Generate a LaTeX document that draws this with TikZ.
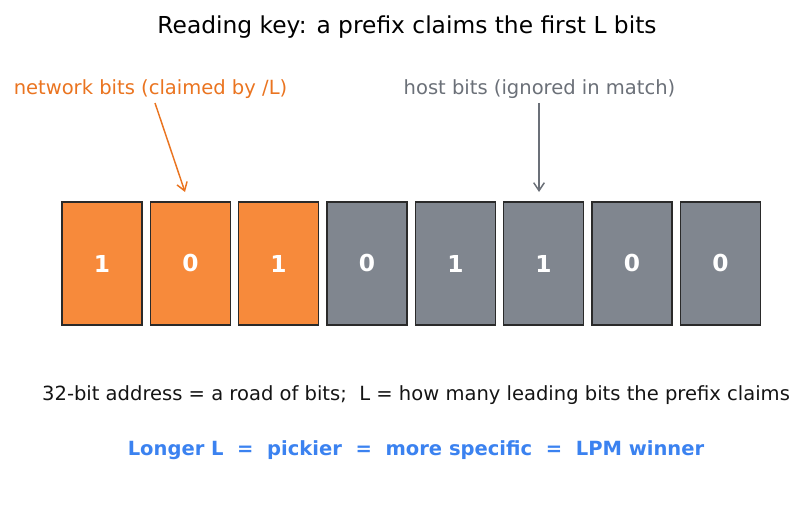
\documentclass[tikz,border=0pt]{standalone}
\usepackage{fontspec}
\setmainfont{DejaVu Sans}
\usetikzlibrary{arrows.meta}
\definecolor{netor}{HTML}{F78A3B}
\definecolor{hostgr}{HTML}{80868F}
\definecolor{edgec}{HTML}{2A2A2A}
\definecolor{ortext}{HTML}{EA7420}
\definecolor{grtext}{HTML}{6B7078}
\definecolor{bluet}{HTML}{3B82F0}
\tikzset{
  bitbox/.style={draw=edgec, line width=1.1pt, minimum width=60pt, minimum height=92pt, inner sep=0pt, text=white, font=\fontsize{17.5}{20}\selectfont\bfseries},
  netbit/.style={bitbox, fill=netor},
  hostbit/.style={bitbox, fill=hostgr},
  lab/.style={font=\fontsize{14.65}{17}\selectfont, inner sep=0pt},
  pointer/.style={-{Straight Barb[length=6pt,width=8pt]}, line width=1.1pt}
}
\begin{document}
\begin{tikzpicture}[x=0.75pt,y=-0.75pt]
\useasboundingbox (0,0) rectangle (803,510);
\node[font=\fontsize{17.5}{20}\selectfont, inner sep=0pt] (title) at (407,27) {Reading key: a prefix claims the first L bits};
\node[netbit] (b1) at (102,263.5) {1};
\node[netbit] (b2) at (190.5,263.5) {0};
\node[netbit] (b3) at (278.5,263.5) {1};
\node[hostbit] (b4) at (367,263.5) {0};
\node[hostbit] (b5) at (455.5,263.5) {1};
\node[hostbit] (b6) at (543.5,263.5) {1};
\node[hostbit] (b7) at (632,263.5) {0};
\node[hostbit] (b8) at (720.5,263.5) {0};
\node[lab, text=ortext] (net) at (150.5,89) {network bits (claimed by /L)};
\node[lab, text=grtext] (host) at (539.5,89) {host bits (ignored in match)};
\coordinate (na) at (155,103);
\coordinate (nb) at (185,192);
\coordinate (ha) at (539,103);
\coordinate (hb) at (539,192);
\draw[pointer, draw=ortext] (na) -- (nb);
\draw[pointer, draw=grtext] (ha) -- (hb);
\node[lab, text=black!92] (cap1) at (416,395) {32-bit address = a road of bits;\ \ L = how many leading bits the prefix claims};
\node[lab, text=bluet, font=\fontsize{14.65}{17}\selectfont\bfseries] (cap2) at (416,450) {Longer L\ \ =\ \ pickier\ \ =\ \ more specific\ \ =\ \ LPM winner};
\end{tikzpicture}
\end{document}
